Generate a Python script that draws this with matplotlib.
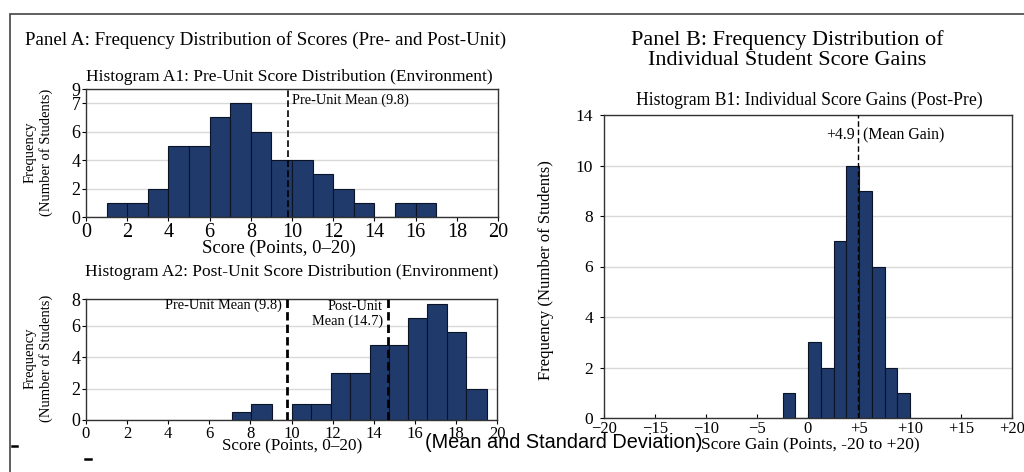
import matplotlib.pyplot as plt
import matplotlib.patches as mpatches
from matplotlib.lines import Line2D

# Histogram data (bin edges and counts)
pre_edges = list(range(1, 18))
pre_counts = [1, 1, 2, 5, 5, 7, 8, 6, 4, 4, 3, 2, 1, 0, 1, 1]
pre_yticks = [0, 2, 4, 6, 8, 9]
pre_yticklabels = ['0', '2', '4', '6', '7', '9']

post_edges = [7.1, 8.05, 9.05, 10.0, 10.95, 11.9, 12.85, 13.8, 14.75, 15.65, 16.6, 17.55, 18.5, 19.5]
post_counts = [0.5, 1, 0, 1, 1, 3, 3, 4.8, 4.8, 6.5, 7.4, 5.6, 2]
post_yticks = [0, 2, 4, 6, 7.7]
post_yticklabels = ['0', '2', '4', '6', '8']

gain_edges = [-2.5, -1.25, 0, 1.25, 2.5, 3.75, 5.0, 6.25, 7.5, 8.75, 10.0]
gain_counts = [1, 0, 3, 2, 7, 10, 9, 6, 2, 1]
gain_yticks = [0, 2, 4, 6, 8, 10, 12]
gain_yticklabels = ['0', '2', '4', '6', '8', '10', '14']
gain_xticks = [-20, -15, -10, -5, 0, 5, 10, 15, 20]
gain_xticklabels = ['\u221220', '\u221215', '\u221210', '\u22125', '0', '+5', '+10', '+15', '+20']

pre_mean = 9.8
post_mean = 14.7
gain_mean = 4.9

W, H = 1024, 472
BAR = '#1F3A6B'
SERIF = 'Liberation Serif'

plt.rcParams['font.family'] = SERIF
fig = plt.figure(figsize=(W / 100, H / 100), dpi=100)


def px_axes(left, top, right, bottom):
    return fig.add_axes([left / W, 1 - bottom / H, (right - left) / W, (bottom - top) / H])


def ftext(x, y, s, **kw):
    kw.setdefault('va', 'center')
    return fig.text(x / W, 1 - y / H, s, **kw)


def bars(ax, edges, counts):
    lefts = edges[:-1]
    widths = [b - a for a, b in zip(edges[:-1], edges[1:])]
    ax.bar(lefts, counts, width=widths, align='edge', color=BAR,
           edgecolor='#0b1426', linewidth=0.8, zorder=2)


def style(ax, xsize, ysize):
    ax.grid(axis='y', color='#d9d9d9', linewidth=1.0, zorder=0)
    ax.set_axisbelow(True)
    for s in ax.spines.values():
        s.set_linewidth(1.0)
        s.set_color('#333333')
    ax.tick_params(length=3, pad=1)
    ax.tick_params(axis='x', labelsize=xsize)
    ax.tick_params(axis='y', labelsize=ysize)


# outer frame
fig.add_artist(mpatches.Rectangle((10 / W, -0.05), 1.1, 1 - 14 / H + 0.05,
                                  transform=fig.transFigure, fill=False,
                                  edgecolor='#444444', linewidth=1.2))

# Histogram A1
ax1 = px_axes(86, 89, 498, 217)
bars(ax1, pre_edges, pre_counts)
style(ax1, 14.5, 13)
ax1.set_xlim(0, 20)
ax1.set_ylim(0, 9)
ax1.set_xticks(range(0, 21, 2))
ax1.set_yticks(pre_yticks)
ax1.set_yticklabels(pre_yticklabels)
ax1.axvline(pre_mean, color='black', linestyle=(0, (4, 2)), linewidth=1.2, zorder=3)
ax1.text(pre_mean + 0.2, 8.2, 'Pre-Unit Mean (9.8)', fontsize=10.4, va='center')

# Histogram A2
ax2 = px_axes(86, 299, 497, 420)
bars(ax2, post_edges, post_counts)
style(ax2, 12, 13)
ax2.set_xlim(0, 20)
ax2.set_ylim(0, 7.7)
ax2.set_xticks(range(0, 21, 2))
ax2.set_yticks(post_yticks)
ax2.set_yticklabels(post_yticklabels)
ax2.axvline(pre_mean, color='black', linestyle=(0, (3, 1.5)), linewidth=2.0, zorder=3)
ax2.axvline(post_mean, color='black', linestyle=(0, (3, 1.5)), linewidth=2.0, zorder=3)
ax2.text(pre_mean - 0.25, 7.3, 'Pre-Unit Mean (9.8)', fontsize=10.4, ha='right', va='center')
ax2.text(post_mean - 0.25, 6.75, 'Post-Unit\nMean (14.7)', fontsize=10.4, ha='right',
         va='center', multialignment='right', linespacing=1.1)

# Histogram B1
ax3 = px_axes(604, 115, 1012, 418)
bars(ax3, gain_edges, gain_counts)
style(ax3, 12, 12.5)
ax3.set_xlim(-20, 20)
ax3.set_ylim(0, 12)
ax3.set_xticks(gain_xticks)
ax3.set_xticklabels(gain_xticklabels)
ax3.set_yticks(gain_yticks)
ax3.set_yticklabels(gain_yticklabels)
ax3.tick_params(axis='x', direction='in', pad=2)
ax3.tick_params(axis='y', pad=5)
ax3.axvline(gain_mean, color='black', linestyle=(0, (4, 2)), linewidth=1.0, zorder=3)
ax3.text(gain_mean - 0.3, 11.2, '+4.9', fontsize=11.4, ha='right', va='center')
ax3.text(gain_mean + 0.5, 11.2, '(Mean Gain)', fontsize=11.4, ha='left', va='center')

# titles and labels
ftext(25, 40, 'Panel A: Frequency Distribution of Scores (Pre- and Post-Unit)', fontsize=13.7)
ftext(787, 50, 'Panel B: Frequency Distribution of\nIndividual Student Score Gains',
      fontsize=16, ha='center', linespacing=1.12)
ftext(289, 77, 'Histogram A1: Pre-Unit Score Distribution (Environment)', fontsize=12.5, ha='center')
ftext(279, 248, 'Score (Points, 0\u201320)', fontsize=13.5, ha='center')
ftext(292, 272, 'Histogram A2: Post-Unit Score Distribution (Environment)', fontsize=12.5, ha='center')
ftext(292, 446, 'Score (Points, 0\u201320)', fontsize=12.3, ha='center')
ftext(38, 152, 'Frequency\n(Number of Students)', fontsize=10.5, rotation=90, ha='center',
      linespacing=1.25)
ftext(38, 358, 'Frequency\n(Number of Students)', fontsize=10.5, rotation=90, ha='center',
      linespacing=1.25)
ftext(809, 100, 'Histogram B1: Individual Score Gains (Post-Pre)', fontsize=12.7, ha='center')
ftext(546, 270, 'Frequency (Number of Students)', fontsize=12, rotation=90, ha='center')
ftext(425, 443, '(Mean and Standard Deviation)', fontsize=14.3, family='Liberation Sans')
ftext(701, 445, 'Score Gain (Points, -20 to +20)', fontsize=12.5)

# stray marks near the lower left
for x0, x1, y in [(12, 17, 446), (85, 91, 459)]:
    fig.add_artist(Line2D([x0 / W, x1 / W], [1 - y / H, 1 - y / H],
                          transform=fig.transFigure, color='black', linewidth=1.8))

fig.savefig('out.png', dpi=100, facecolor='white')
